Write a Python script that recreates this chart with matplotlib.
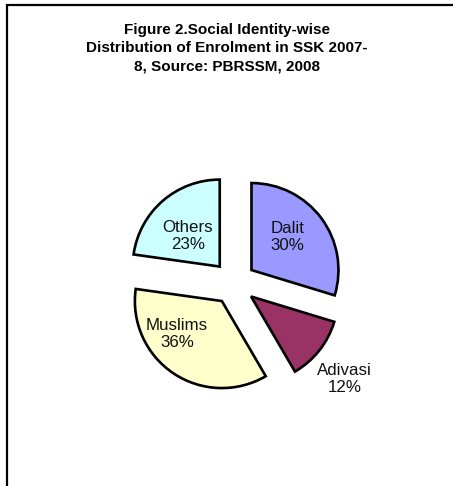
import numpy as np
import matplotlib
matplotlib.use("Agg")
import matplotlib.pyplot as plt
from matplotlib.lines import Line2D

plt.rcParams["font.family"] = ["Liberation Sans", "DejaVu Sans"]

# Enrolment share by social identity (per cent)
groups = ["Dalit", "Adivasi", "Muslims", "Others"]
shares = [30, 12, 36, 23]
colors = ["#9999FF", "#993366", "#FFFFCC", "#CCFFFF"]

title = ("Figure 2.Social Identity-wise\n"
         "Distribution of Enrolment in SSK 2007-\n"
         "8, Source: PBRSSM, 2008")

W, H = 453, 486
fig = plt.figure(figsize=(W / 100, H / 100), dpi=100)
fig.patch.set_edgecolor("none")

# chart-area border: only the left and top edges fall inside the image
x0, y0 = 6.5 / W, 1 - 5 / H
fig.add_artist(Line2D([x0, x0, 1.05], [-0.05, y0, y0], transform=fig.transFigure,
                      color="black", linewidth=1.6, solid_joinstyle="miter"))

fig.text(227 / W, 1 - 48.5 / H, title, ha="center", va="center",
         fontsize=11, fontweight="bold", linespacing=1.4)

# pie axes: 1 data unit = 87 px, centred on the pie
cx, cy, r_px, lim = 234, 283, 87, 2.0
half = lim * r_px
ax = fig.add_axes([(cx - half) / W, (H - cy - half) / H, 2 * half / W, 2 * half / H])

explode = [0.25] * len(shares)
wedges, _ = ax.pie(shares, colors=colors, explode=explode, startangle=90,
                   counterclock=False,
                   wedgeprops=dict(edgecolor="black", linewidth=1.9))
ax.set_xlim(-lim, lim)
ax.set_ylim(-lim, lim)
ax.set_aspect("equal")
ax.axis("off")

# label placement relative to each exploded wedge
label_r = [0.56, 1.43, 0.64, 0.51]
label_dtheta = [6, -3, -20, 5]
total = sum(shares)
for w, g, v, ex, lr, dt in zip(wedges, groups, shares, explode, label_r, label_dtheta):
    mid = np.deg2rad((w.theta1 + w.theta2) / 2)
    ox, oy = ex * np.cos(mid), ex * np.sin(mid)
    ang = mid + np.deg2rad(dt)
    ax.text(ox + lr * np.cos(ang), oy + lr * np.sin(ang),
            f"{g}\n{v / total * 100:.0f}%", ha="center", va="center",
            fontsize=12.2, linespacing=1.15, color="#111111")

fig.savefig("out.png", dpi=100)
